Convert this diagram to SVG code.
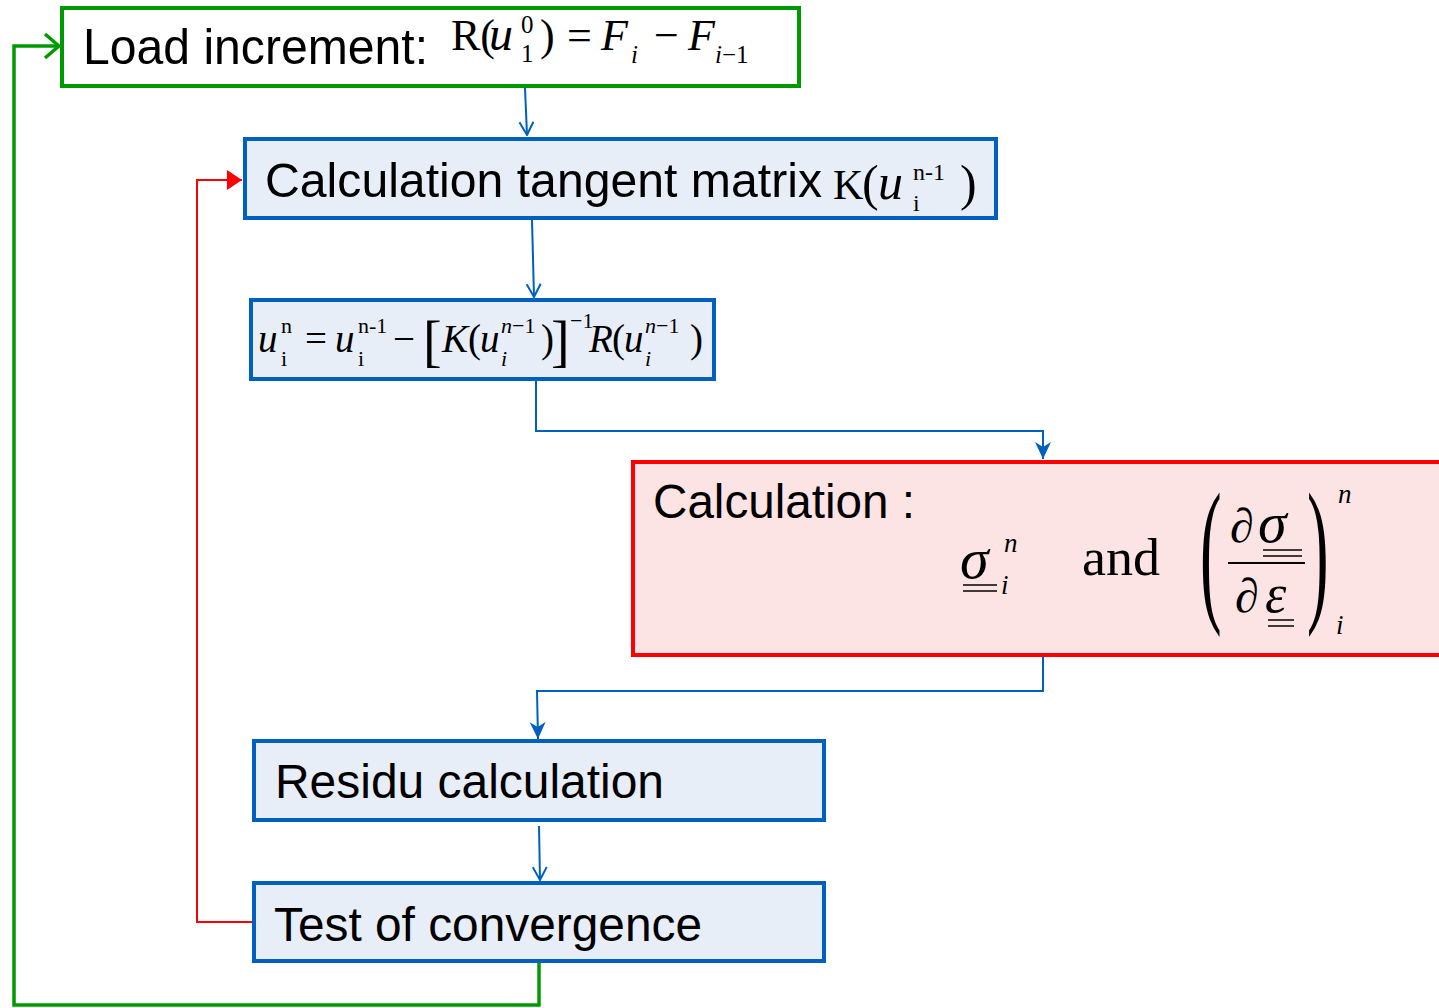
<svg xmlns="http://www.w3.org/2000/svg" width="1439" height="1008" viewBox="0 0 1439 1008">
<defs>
<style>
.lbl{font-family:"Liberation Sans",Arial,sans-serif;fill:#000;}
.m{font-family:"Liberation Serif","Times New Roman",serif;fill:#000;}
.it{font-style:italic;}
.bx{fill:#E8EEF8;stroke:#0060C0;stroke-width:4;}
.cb{fill:none;stroke:#0060C0;stroke-width:2;}
.ul{stroke:#000;stroke-width:1.5;}
</style>
<marker id="vBlue" markerUnits="userSpaceOnUse" markerWidth="16" markerHeight="16" viewBox="0 0 16 16" refX="15" refY="8" orient="auto"><path d="M2,1 L15,8 L2,15" fill="none" stroke="#0060C0" stroke-width="2"/></marker>
<marker id="sBlue" markerUnits="userSpaceOnUse" markerWidth="18" markerHeight="18" viewBox="0 0 18 18" refX="17" refY="9" orient="auto"><path d="M0,1 L17,9 L0,17 L5,9 Z" fill="#0060C0"/></marker>
<marker id="tRed" markerUnits="userSpaceOnUse" markerWidth="16" markerHeight="22" viewBox="0 0 16 22" refX="15" refY="11" orient="auto"><path d="M0,1 L15,11 L0,21 Z" fill="#FF0000"/></marker>
<marker id="vGreen" markerUnits="userSpaceOnUse" markerWidth="18" markerHeight="28" viewBox="0 0 18 28" refX="16" refY="14" orient="auto"><path d="M2,2 L16,14 L2,26" fill="none" stroke="#009A00" stroke-width="3.5"/></marker>
</defs>

<g id="connectors">
<path class="cb" d="M525,88 L527,135" marker-end="url(#vBlue)"/>
<path class="cb" d="M532,220 L534,297" marker-end="url(#vBlue)"/>
<path class="cb" d="M536,381 L536,431 L1043,431 L1043,459" marker-end="url(#sBlue)"/>
<path class="cb" d="M1043,657 L1043,691 L537,691 L538,739" marker-end="url(#sBlue)"/>
<path class="cb" d="M539,826 L540,880" marker-end="url(#vBlue)"/>
<path d="M253,922 L197,922 L197,180 L242,180" fill="none" stroke="#FF0000" stroke-width="2" marker-end="url(#tRed)"/>
<path d="M539,963 L539,1005 L14,1005 L14,46 L59,46" fill="none" stroke="#009A00" stroke-width="3.5" marker-end="url(#vGreen)"/>
</g>

<g id="load-increment">
<rect x="62" y="8" width="737" height="78" fill="#FFFFFF" stroke="#009A00" stroke-width="4"/>
<text class="lbl" x="83" y="64" font-size="50" textLength="345" lengthAdjust="spacingAndGlyphs">Load increment:</text>
<text class="m" font-size="44">
<tspan x="451" y="50">R(</tspan><tspan class="it" x="489" y="50" font-size="48">u</tspan><tspan x="521" y="33" font-size="25">0</tspan><tspan x="521" y="62" font-size="25">1</tspan><tspan x="540" y="50">)</tspan><tspan x="567" y="50">=</tspan><tspan class="it" x="601" y="50">F</tspan><tspan class="it" x="631" y="63" font-size="25">i</tspan><tspan x="654" y="50">−</tspan><tspan class="it" x="688" y="50">F</tspan><tspan class="it" x="715" y="63" font-size="25">i</tspan><tspan x="722" y="63" font-size="25">−1</tspan>
</text>
</g>

<g id="tangent-matrix">
<rect class="bx" x="245" y="139" width="751" height="79"/>
<text class="lbl" x="265" y="197" font-size="49" textLength="557" lengthAdjust="spacingAndGlyphs">Calculation tangent matrix</text>
<text class="m" font-size="42">
<tspan x="833" y="199">K</tspan><tspan x="862" y="200" font-size="50">(</tspan><tspan class="it" x="878" y="199" font-size="50">u</tspan><tspan x="913" y="180" font-size="24">n-1</tspan><tspan x="913" y="211" font-size="24">i</tspan><tspan x="960" y="200" font-size="50">)</tspan>
</text>
</g>

<g id="update">
<rect class="bx" x="251" y="300" width="463" height="79"/>
<text class="m" font-size="39">
<tspan class="it" x="258" y="352">u</tspan><tspan x="281" y="333" font-size="22">n</tspan><tspan x="281" y="366" font-size="22">i</tspan>
<tspan x="305" y="352">=</tspan>
<tspan class="it" x="335" y="352">u</tspan><tspan x="358" y="333" font-size="22">n-1</tspan><tspan x="358" y="366" font-size="22">i</tspan>
<tspan x="393" y="352">−</tspan>
<tspan x="423" y="360" font-size="56">[</tspan>
<tspan class="it" x="442" y="352">K</tspan><tspan x="468" y="352">(</tspan><tspan class="it" x="480" y="352">u</tspan><tspan class="it" x="501" y="333" font-size="22">n</tspan><tspan x="512" y="333" font-size="22">−1</tspan><tspan class="it" x="501" y="366" font-size="22">i</tspan><tspan x="541" y="352">)</tspan>
<tspan x="551" y="360" font-size="56">]</tspan>
<tspan x="570" y="328" font-size="22">−1</tspan>
<tspan class="it" x="589" y="352">R</tspan><tspan x="612" y="352">(</tspan><tspan class="it" x="624" y="352">u</tspan><tspan class="it" x="645" y="333" font-size="22">n</tspan><tspan x="656" y="333" font-size="22">−1</tspan><tspan class="it" x="645" y="366" font-size="22">i</tspan><tspan x="690" y="352">)</tspan>
</text>
</g>

<g id="calculation">
<rect x="633" y="462" width="812" height="193" fill="#FDE4E4" stroke="#FF0000" stroke-width="4"/>
<text class="lbl" x="653" y="518" font-size="48" textLength="262" lengthAdjust="spacingAndGlyphs">Calculation :</text>
<text class="m it" x="960" y="578" font-size="58">σ</text>
<line class="ul" x1="963" y1="585" x2="997" y2="585"/>
<line class="ul" x1="963" y1="591" x2="997" y2="591"/>
<text class="m it" x="1004" y="552" font-size="27">n</text>
<text class="m it" x="1001" y="594" font-size="27">i</text>
<text class="m" x="1082" y="575" font-size="52" textLength="78" lengthAdjust="spacingAndGlyphs">and</text>
<text class="m" font-size="36" transform="matrix(1.8,0,0,4.4,1200,603)">(</text>
<text class="m" font-size="36" transform="matrix(1.8,0,0,4.4,1307,603)">)</text>
<text class="m it" x="1230" y="542" font-size="48">∂</text>
<text class="m it" x="1258" y="542" font-size="58">σ</text>
<line class="ul" x1="1263" y1="550" x2="1302" y2="550"/>
<line class="ul" x1="1263" y1="556" x2="1302" y2="556"/>
<line x1="1228" y1="563" x2="1305" y2="563" stroke="#000" stroke-width="2"/>
<text class="m it" x="1235" y="612" font-size="48">∂</text>
<text class="m it" x="1265" y="612" font-size="54">ε</text>
<line class="ul" x1="1268" y1="620" x2="1294" y2="620"/>
<line class="ul" x1="1268" y1="626" x2="1294" y2="626"/>
<text class="m it" x="1338" y="503" font-size="27">n</text>
<text class="m it" x="1336" y="634" font-size="27">i</text>
</g>

<g id="residu">
<rect class="bx" x="254" y="741" width="570" height="79"/>
<text class="lbl" x="275" y="798" font-size="48" textLength="389" lengthAdjust="spacingAndGlyphs">Residu calculation</text>
</g>

<g id="convergence">
<rect class="bx" x="254" y="883" width="570" height="78"/>
<text class="lbl" x="274" y="941" font-size="48" textLength="428" lengthAdjust="spacingAndGlyphs">Test of convergence</text>
</g>
</svg>
